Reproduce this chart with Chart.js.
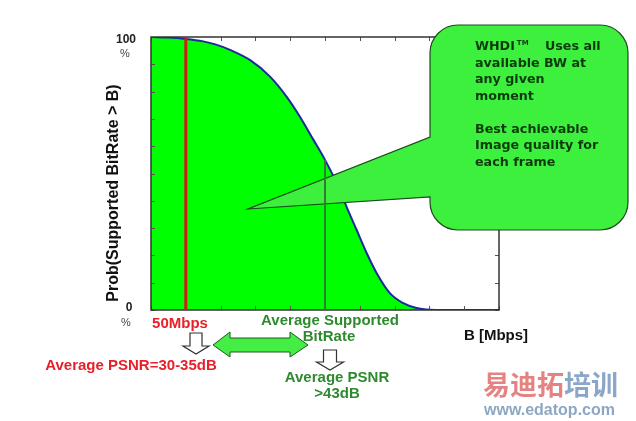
<!DOCTYPE html>
<html>
<head>
<meta charset="utf-8">
<script src="https://cdn.jsdelivr.net/npm/chart.js@4.4.1/dist/chart.umd.min.js"></script>
<style>
  html, body { margin: 0; padding: 0; background: #fff; }
</style>
</head>
<body>
<canvas id="chartBitRate" width="636" height="421"></canvas>
<script>
/* Prob(Supported BitRate > B) */
const bitRates = [0, 5, 10, 15, 18.5, 22.7, 28.4, 34.2, 39, 42.8, 46.6, 50, 53.4, 56.2, 59.1, 62, 64.9, 68.7, 72.5, 76.3, 79.2, 85, 100];
const probValues = [100, 99.8, 99.3, 98.4, 97.3, 95.3, 91.6, 85.5, 78.1, 70.8, 62.5, 55, 46.4, 37.8, 29.3, 20.8, 13.4, 6.1, 2.5, 0.7, 0.2, 0, 0];

// 50Mbps (red) and average supported bitrate (green)
const markerRates = [10, 50];
const markerTops = [100, 55];

const xTicks = [0, 10, 20, 30, 40, 50, 60, 70, 80, 90, 100];
const yTicks = [0, 10, 20, 30, 40, 50, 60, 70, 80, 90, 100];
const yTickLabels = ['0', '100'];

const calloutLines = ['available BW at', 'any given', 'moment', '', 'Best achievable', 'Image quality for', 'each frame'];

const pts = (xs, ys) => xs.map((x, i) => ({ x: x, y: ys[i] }));

const FONT = '"Liberation Sans", Arial, sans-serif';

/* Marco, ticks y globo */
const decorPlugin = {
  id: 'decor',
  afterDatasetDraw(chart, args) {
    if (args.index !== 0) return;
    const c = chart.ctx;
    const a = chart.chartArea;
    const sx = chart.scales.x, sy = chart.scales.y;

    c.save();
    // ticks hacia adentro
    c.strokeStyle = '#555';
    c.lineWidth = 1;
    c.beginPath();
    xTicks.forEach((v) => {
      const px = Math.round(sx.getPixelForValue(v)) + 0.5;
      c.moveTo(px, a.bottom); c.lineTo(px, a.bottom - 4);
      c.moveTo(px, a.top); c.lineTo(px, a.top + 4);
    });
    yTicks.forEach((v) => {
      const py = Math.round(sy.getPixelForValue(v)) + 0.5;
      c.moveTo(a.left, py); c.lineTo(a.left + 4, py);
      c.moveTo(a.right, py); c.lineTo(a.right - 4, py);
    });
    c.stroke();

    // marco
    c.strokeStyle = '#333';
    c.lineWidth = 1.5;
    c.strokeRect(a.left, a.top, a.right - a.left, a.bottom - a.top);

    // globo
    const L = 430, T = 25, R = 628, B = 230, r = 28;
    c.beginPath();
    c.moveTo(L + r, T);
    c.lineTo(R - r, T);
    c.arcTo(R, T, R, T + r, r);
    c.lineTo(R, B - r);
    c.arcTo(R, B, R - r, B, r);
    c.lineTo(L + r, B);
    c.arcTo(L, B, L, B - r, r);
    c.lineTo(L, 197);
    c.lineTo(248, 209);
    c.lineTo(L, 137);
    c.lineTo(L, T + r);
    c.arcTo(L, T, L + r, T, r);
    c.closePath();
    c.fillStyle = '#3ef03e';
    c.fill();
    c.strokeStyle = '#1c4a1c';
    c.lineWidth = 1.2;
    c.stroke();

    // texto del globo
    c.fillStyle = '#0c3a0c';
    c.textBaseline = 'middle';
    c.textAlign = 'left';
    const bf = 'bold 12.7px "DejaVu Sans", Verdana, sans-serif';
    c.font = bf;
    c.fillText('WHDI', 475, 47);
    let w = c.measureText('WHDI').width;
    c.font = 'bold 7px "DejaVu Sans", Verdana, sans-serif';
    c.fillText('TM', 475 + w + 2, 43);
    c.font = bf;
    c.fillText('Uses all', 545, 47);
    calloutLines.forEach((t, i) => {
      c.fillText(t, 475, 63.5 + i * 16.5);
    });
    c.restore();
  },
  afterDraw(chart) {
    const c = chart.ctx;
    c.save();
    c.textAlign = 'center';
    c.textBaseline = 'middle';

    // etiquetas eje y
    c.fillStyle = '#222';
    c.font = 'bold 12px ' + FONT;
    c.fillText(yTickLabels[1], 126, 40);
    c.fillText(yTickLabels[0], 129, 308);
    c.fillStyle = '#444';
    c.font = '11px ' + FONT;
    c.fillText('%', 125, 54);
    c.fillText('%', 126, 323);

    // titulo eje y
    c.save();
    c.translate(114, 193);
    c.rotate(-Math.PI / 2);
    c.fillStyle = '#111';
    c.font = 'bold 16px ' + FONT;
    c.fillText('Prob(Supported BitRate > B)', 0, 0);
    c.restore();

    // titulo eje x
    c.fillStyle = '#111';
    c.font = 'bold 15px ' + FONT;
    c.fillText('B [Mbps]', 496, 336);

    // anotaciones rojas
    c.fillStyle = '#e8202a';
    c.font = 'bold 15px ' + FONT;
    c.fillText('50Mbps', 180, 324);
    c.fillText('Average PSNR=30-35dB', 131, 366);

    // anotaciones verdes
    c.fillStyle = '#2e8a2e';
    c.fillText('Average Supported', 330, 321);
    c.fillText('BitRate', 329, 337);
    c.fillText('Average PSNR', 337, 378);
    c.fillText('>43dB', 337, 394);

    // flechas huecas
    const downArrow = (cx, top, sw, hw, sh, tip) => {
      c.beginPath();
      c.moveTo(cx - sw, top);
      c.lineTo(cx + sw, top);
      c.lineTo(cx + sw, sh);
      c.lineTo(cx + hw, sh);
      c.lineTo(cx, tip);
      c.lineTo(cx - hw, sh);
      c.lineTo(cx - sw, sh);
      c.closePath();
      c.fillStyle = '#fff';
      c.fill();
      c.strokeStyle = '#333';
      c.lineWidth = 1.2;
      c.stroke();
    };
    downArrow(196, 333, 6, 13, 346, 354);
    downArrow(330, 350, 6.5, 13.5, 362, 370);

    // flecha doble
    c.beginPath();
    c.moveTo(213, 345);
    c.lineTo(230, 332);
    c.lineTo(230, 338);
    c.lineTo(290, 338);
    c.lineTo(290, 332);
    c.lineTo(308, 345);
    c.lineTo(290, 357);
    c.lineTo(290, 352);
    c.lineTo(230, 352);
    c.lineTo(230, 357);
    c.closePath();
    c.fillStyle = '#44ee44';
    c.fill();
    c.strokeStyle = '#1d5a1d';
    c.lineWidth = 1;
    c.stroke();

    // marca de agua
    c.textAlign = 'left';
    c.font = 'bold 27px "Noto Sans CJK SC", sans-serif';
    c.fillStyle = 'rgba(220, 90, 90, 0.75)';
    c.fillText('易迪拓', 483, 385);
    const ww = c.measureText('易迪拓').width;
    c.fillStyle = 'rgba(110, 145, 185, 0.8)';
    c.fillText('培训', 483 + ww, 385);
    c.font = 'bold 16px ' + FONT;
    c.fillStyle = 'rgba(120, 150, 185, 0.85)';
    c.fillText('www.edatop.com', 484, 411);
    c.restore();
  },
};

const ctx = document.getElementById('chartBitRate').getContext('2d');
const myChart = new Chart(ctx, {
  type: 'line',
  plugins: [decorPlugin],
  data: {
    datasets: [
      {
        data: pts(bitRates, probValues),
        borderColor: '#1c2a9e',
        borderWidth: 2,
        backgroundColor: '#00ff00',
        fill: 'origin',
        pointRadius: 0,
        cubicInterpolationMode: 'monotone',
        order: 3,
      },
      {
        data: pts([markerRates[0], markerRates[0]], [0, markerTops[0]]),
        borderColor: '#d01c12',
        borderWidth: 3,
        pointRadius: 0,
        fill: false,
        order: 1,
      },
      {
        data: pts([markerRates[1], markerRates[1]], [0, markerTops[1]]),
        borderColor: '#2f7f2f',
        borderWidth: 2,
        pointRadius: 0,
        fill: false,
        order: 1,
      },
    ],
  },
  options: {
    responsive: false,
    animation: false,
    layout: { padding: { left: 151, top: 37, right: 137, bottom: 111 } },
    scales: {
      x: { type: 'linear', min: 0, max: 100, display: false },
      y: { min: 0, max: 100, display: false },
    },
    plugins: {
      legend: { display: false },
      tooltip: { enabled: false },
    },
  },
});
</script>
</body>
</html>
